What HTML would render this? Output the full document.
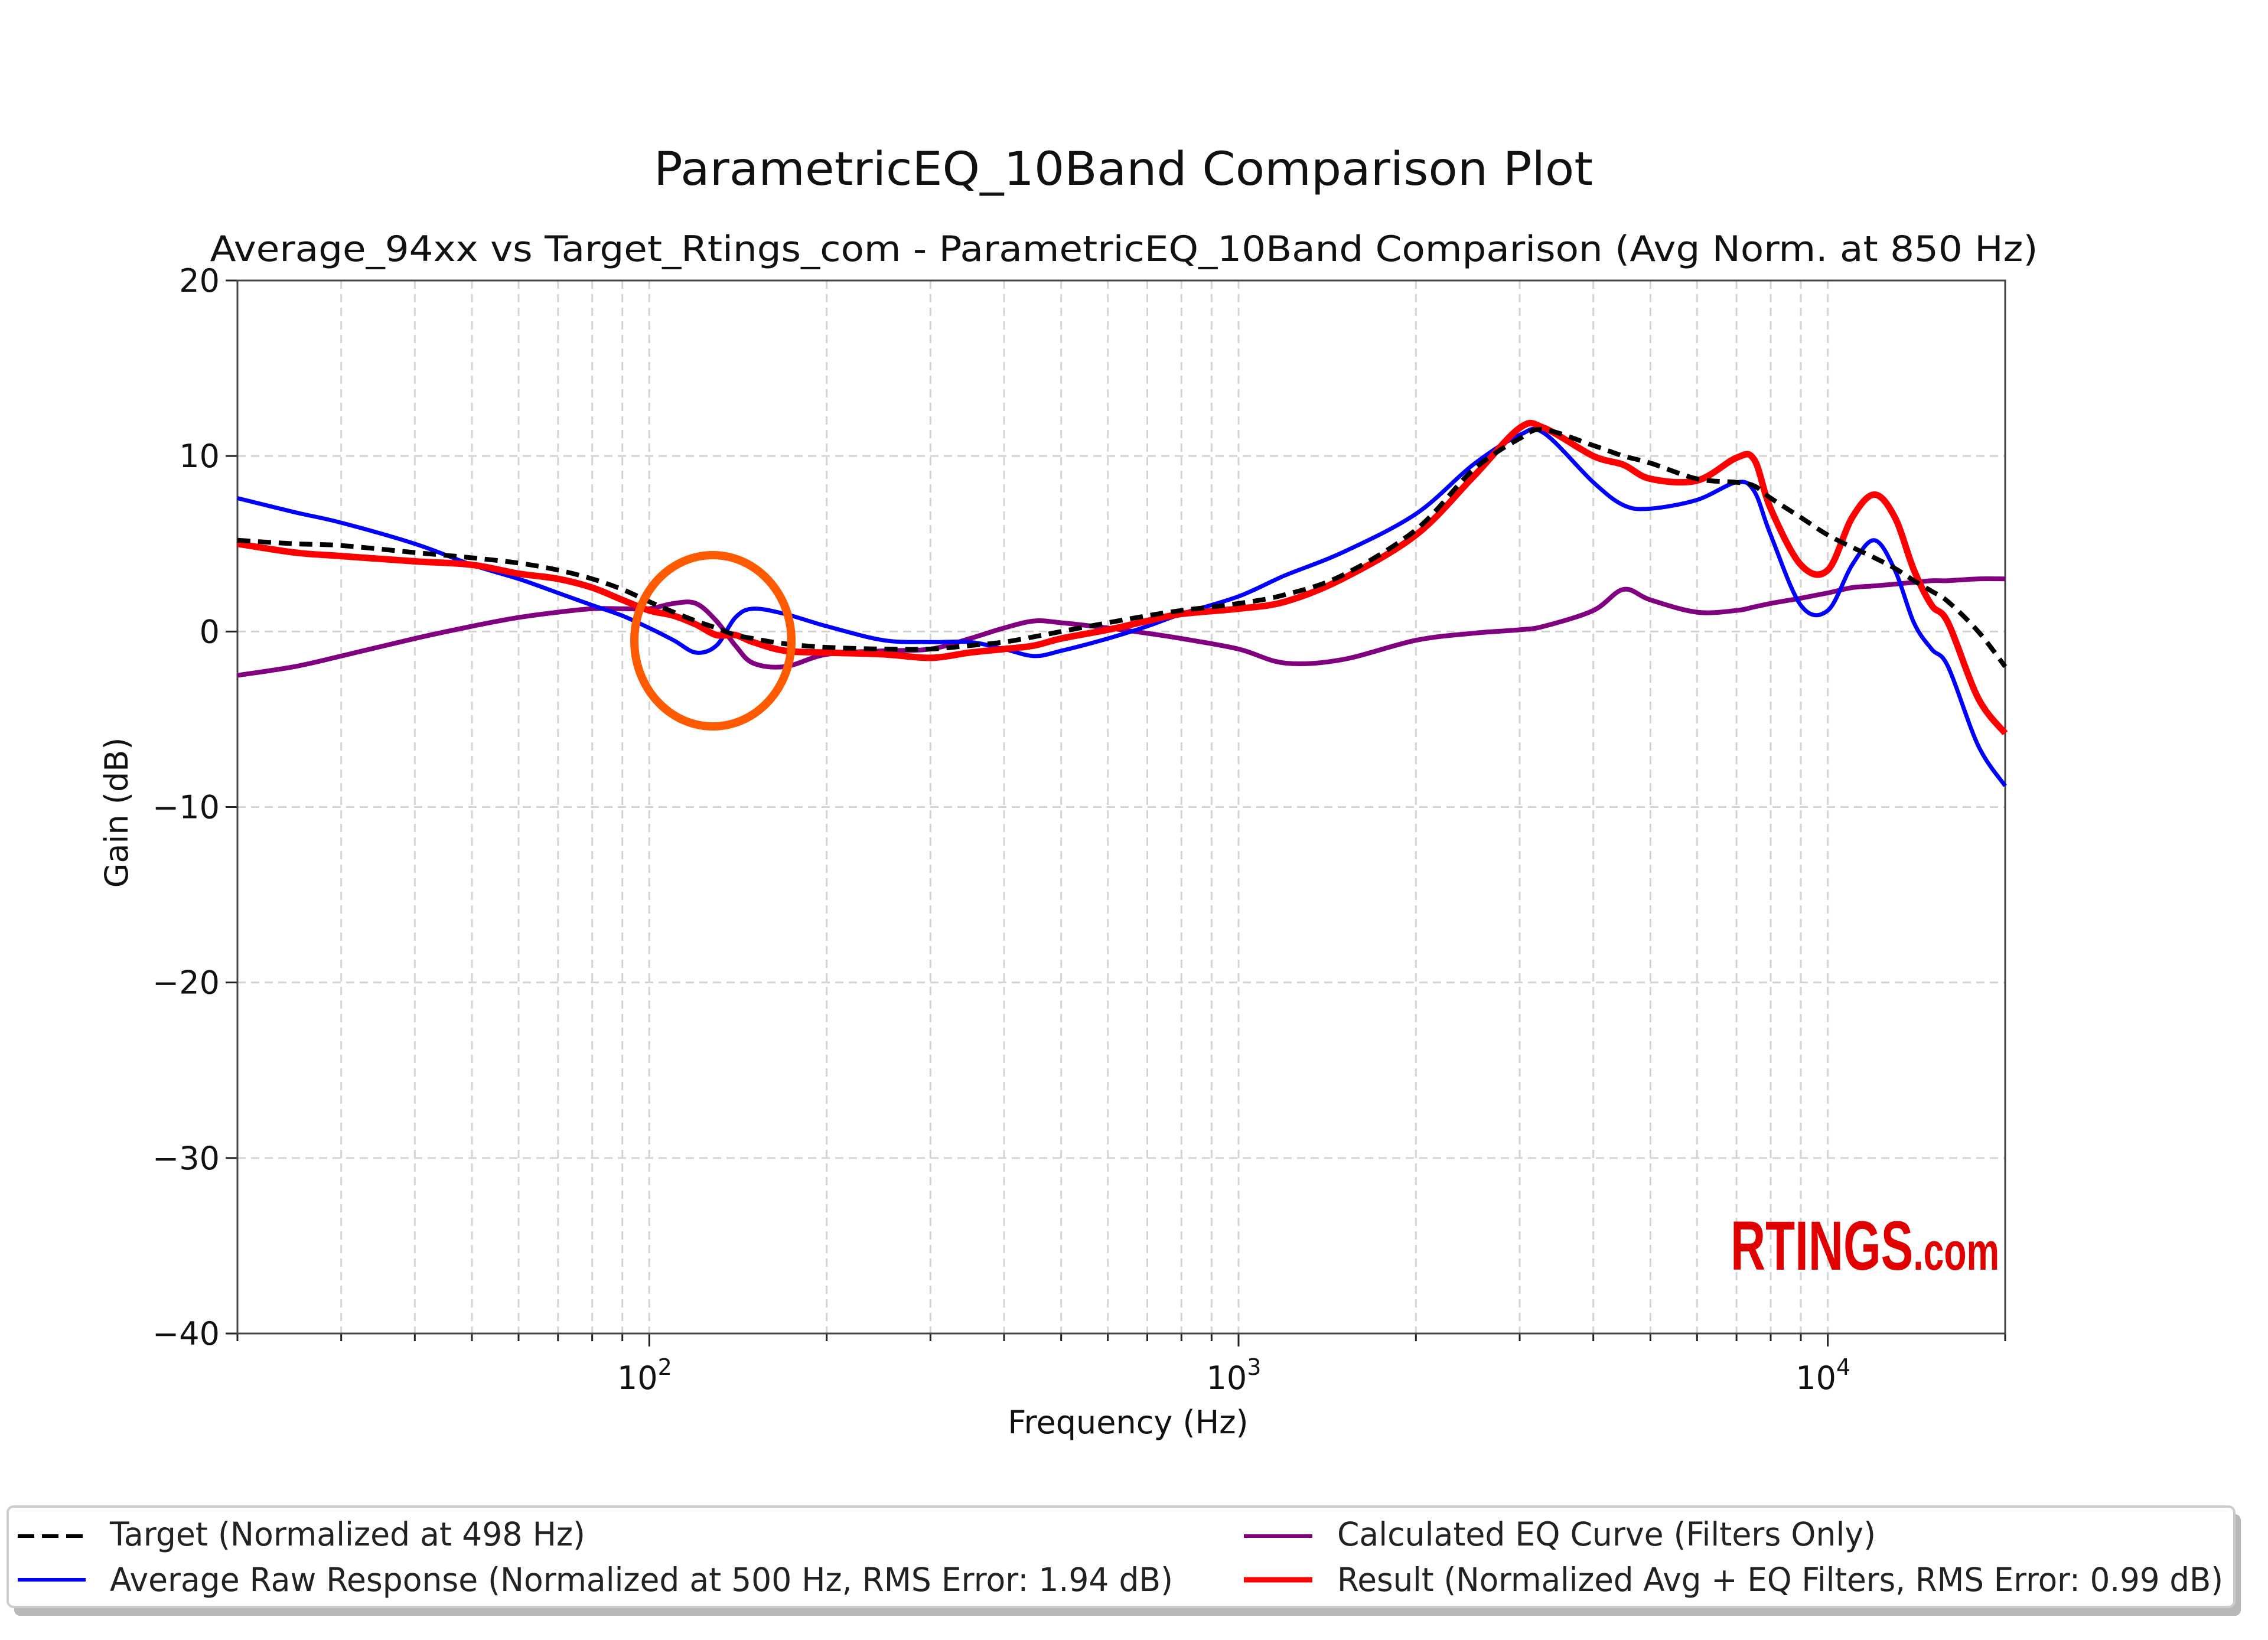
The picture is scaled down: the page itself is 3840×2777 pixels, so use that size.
<!DOCTYPE html>
<html><head><meta charset="utf-8"><style>
html,body{margin:0;padding:0;background:#fff;}
svg{display:block;font-family:"DejaVu Sans","Liberation Sans",sans-serif;}
</style></head><body>
<svg id="chart" width="3840" height="2777" viewBox="0 0 3840 2777" xmlns="http://www.w3.org/2000/svg">
<rect width="3840" height="2777" fill="#fff"/>
<text x="1902" y="313" font-size="78" text-anchor="middle" textLength="1590" lengthAdjust="spacingAndGlyphs" fill="#111">ParametricEQ_10Band Comparison Plot</text>
<text x="1903" y="442" font-size="60" text-anchor="middle" textLength="3095" lengthAdjust="spacingAndGlyphs" fill="#111">Average_94xx vs Target_Rtings_com - ParametricEQ_10Band Comparison (Avg Norm. at 850 Hz)</text>
<g id="grid"></g>
<g id="axes"></g>
<g id="series"></g>
<ellipse cx="1207" cy="1085" rx="133" ry="145" fill="none" stroke="#ff5a00" stroke-width="14"/>
<text x="2930" y="2150" font-family="Liberation Sans Narrow, Liberation Sans, sans-serif" font-weight="bold" font-size="118" fill="#e00000" textLength="455" lengthAdjust="spacingAndGlyphs">RTINGS<tspan font-size="90">.com</tspan></text>
<text transform="translate(216,1376) rotate(-90)" font-size="54" text-anchor="middle" fill="#111">Gain (dB)</text>
<text x="1910" y="2427" font-size="54" text-anchor="middle" fill="#111">Frequency (Hz)</text>
<g>
<rect x="24" y="2564" width="3770" height="172" rx="10" fill="#888" opacity="0.6"/>
<rect x="13" y="2551" width="3770" height="170" rx="10" fill="#fff" stroke="#ccc" stroke-width="4"/>
<g><line x1="30" y1="2601" x2="145" y2="2601" stroke="#000" stroke-width="6" stroke-dasharray="28,13"/><text x="186" y="2617" font-size="55" fill="#222" textLength="805" lengthAdjust="spacingAndGlyphs">Target (Normalized at 498 Hz)</text></g>
<g><line x1="30" y1="2675" x2="145" y2="2675" stroke="#0000ff" stroke-width="6"/><text x="186" y="2694" font-size="55" fill="#222" textLength="1800" lengthAdjust="spacingAndGlyphs">Average Raw Response (Normalized at 500 Hz, RMS Error: 1.94 dB)</text></g>
<g><line x1="2106" y1="2601" x2="2222" y2="2601" stroke="#800080" stroke-width="6"/><text x="2264" y="2617" font-size="55" fill="#222" textLength="912" lengthAdjust="spacingAndGlyphs">Calculated EQ Curve (Filters Only)</text></g>
<g><line x1="2106" y1="2675" x2="2222" y2="2675" stroke="#ff0000" stroke-width="9"/><text x="2264" y="2694" font-size="55" fill="#222" textLength="1500" lengthAdjust="spacingAndGlyphs">Result (Normalized Avg + EQ Filters, RMS Error: 0.99 dB)</text></g>
</g>
</svg>
<script>
const freqs=[20,25,30,40,50,60,70,80,90,100,110,120,130,140,150,170,200,250,300,350,400,450,500,600,700,800,1000,1200,1500,2000,2500,3000,3300,4000,4500,5000,6000,7000,7500,8000,9000,10000,11000,12000,13000,14000,15000,16000,18000,20000];
const targetDb=[5.2,5.0,4.9,4.5,4.2,3.9,3.5,3.0,2.4,1.7,1.1,0.6,0.2,-0.2,-0.4,-0.7,-0.9,-1.0,-1.0,-0.8,-0.6,-0.3,0.0,0.5,0.9,1.2,1.6,2.1,3.2,5.8,9.2,11.0,11.5,10.6,10.0,9.6,8.7,8.5,8.3,7.6,6.5,5.5,4.8,4.2,3.6,2.9,2.3,1.7,0.0,-2.0];
const rawDb=[7.6,6.8,6.2,5.0,3.8,3.0,2.2,1.5,0.9,0.2,-0.5,-1.2,-0.8,0.8,1.3,1.0,0.3,-0.5,-0.6,-0.6,-1.0,-1.4,-1.1,-0.4,0.3,1.0,2.0,3.2,4.5,6.7,9.5,11.2,11.3,8.5,7.2,7.0,7.5,8.5,8.0,5.5,1.5,1.2,3.8,5.2,3.5,0.5,-1.0,-2.0,-6.5,-8.8];
const eqDb=[-2.5,-2.0,-1.4,-0.4,0.3,0.8,1.1,1.3,1.3,1.3,1.6,1.6,0.6,-0.8,-1.8,-2.0,-1.3,-1.1,-1.0,-0.4,0.2,0.6,0.5,0.2,-0.1,-0.4,-1.0,-1.8,-1.6,-0.5,-0.1,0.1,0.3,1.2,2.4,1.8,1.1,1.2,1.4,1.6,1.9,2.2,2.5,2.6,2.7,2.8,2.9,2.9,3.0,3.0];
const resultDb=[5.0,4.5,4.3,4.0,3.8,3.3,3.0,2.5,1.8,1.2,0.9,0.4,-0.2,-0.2,-0.6,-1.1,-1.2,-1.3,-1.5,-1.2,-1.0,-0.8,-0.4,0.1,0.6,1.0,1.3,1.7,3.0,5.5,8.8,11.6,11.6,10.0,9.5,8.7,8.6,9.9,9.8,7.0,3.8,3.5,6.5,7.8,6.5,3.5,1.5,0.5,-3.8,-5.8];
const yTicks=[20,10,0,-10,-20,-30,-40];
const yTickLabels=["20","10","0","\u221210","\u221220","\u221230","\u221240"];
const xDecades=[100,1000,10000];
const xDecadeLabels=["2","3","4"];

const L=402,R=3395,T=475,B=2258,FMIN=20,FMAX=20000,YMIN=-40,YMAX=20;
const NS='http://www.w3.org/2000/svg';
function xs(f){return L+(Math.log10(f)-Math.log10(FMIN))/(Math.log10(FMAX)-Math.log10(FMIN))*(R-L);}
function ys(v){return B-(v-YMIN)/(YMAX-YMIN)*(B-T);}
function mk(tag,attrs,parent){const e=document.createElementNS(NS,tag);for(const k in attrs)e.setAttribute(k,attrs[k]);parent.appendChild(e);return e;}
const grid=document.getElementById('grid'),axes=document.getElementById('axes'),series=document.getElementById('series');
const minors=[];
for(let d=10;d<=10000;d*=10){for(let m=1;m<10;m++){const f=d*m;if(f>=FMIN&&f<=FMAX)minors.push(f);}}
minors.push(20000);
minors.forEach(f=>{
  const x=xs(f);
  const g=mk('line',{x1:x,y1:T,x2:x,y2:B,stroke:'#d4d4d4','stroke-width':3,'stroke-dasharray':'14,9'},grid);
  
  
  const major=xDecades.indexOf(f)>=0;
  const t=mk('line',{x1:x,y1:B,x2:x,y2:B+(major?22:13),stroke:'#222','stroke-width':3},axes);
  
  
});
xDecades.forEach((f,i)=>{
  const tx=mk('text',{x:xs(f)-8,y:2352,'font-size':54,'text-anchor':'middle',fill:'#111'},axes);
  
  
  tx.textContent='10';
  const sp=mk('tspan',{dy:-24,'font-size':38},tx);sp.textContent=xDecadeLabels[i];
});
yTicks.forEach((v,i)=>{
  const y=ys(v);
  const g=mk('line',{x1:L,y1:y,x2:R,y2:y,stroke:'#d4d4d4','stroke-width':3,'stroke-dasharray':'14,9'},grid);
  
  
  const t=mk('line',{x1:L-20,y1:y,x2:L,y2:y,stroke:'#222','stroke-width':3},axes);
  
  
  const tx=mk('text',{x:L-30,y:y+19,'font-size':54,'text-anchor':'end',fill:'#111'},axes);
  
  
  tx.textContent=yTickLabels[i];
});
const frame=mk('rect',{x:L,y:T,width:R-L,height:B-T,fill:'none',stroke:'#444','stroke-width':3},axes);


function pathFor(vals){
  const p=freqs.map((f,i)=>[xs(f),ys(vals[i])]);
  let d='M'+p[0][0].toFixed(1)+','+p[0][1].toFixed(1);
  for(let i=0;i<p.length-1;i++){
    const p0=p[Math.max(0,i-1)],p1=p[i],p2=p[i+1],p3=p[Math.min(p.length-1,i+2)];
    const c1x=p1[0]+(p2[0]-p0[0])/6,c1y=p1[1]+(p2[1]-p0[1])/6;
    const c2x=p2[0]-(p3[0]-p1[0])/6,c2y=p2[1]-(p3[1]-p1[1])/6;
    d+=' C'+c1x.toFixed(1)+','+c1y.toFixed(1)+' '+c2x.toFixed(1)+','+c2y.toFixed(1)+' '+p2[0].toFixed(1)+','+p2[1].toFixed(1);
  }
  return d;
}
const eqLine=mk('path',{d:pathFor(eqDb),fill:'none',stroke:'#800080','stroke-width':8,'stroke-linejoin':'round'},series);


const rawLine=mk('path',{d:pathFor(rawDb),fill:'none',stroke:'#0000ff','stroke-width':7,'stroke-linejoin':'round'},series);


const resLine=mk('path',{d:pathFor(resultDb),fill:'none',stroke:'#ff0000','stroke-width':11,'stroke-linejoin':'round'},series);


const tgtLine=mk('path',{d:pathFor(targetDb),fill:'none',stroke:'#000','stroke-width':8,'stroke-dasharray':'22,13'},series);


</script>
</body></html>
